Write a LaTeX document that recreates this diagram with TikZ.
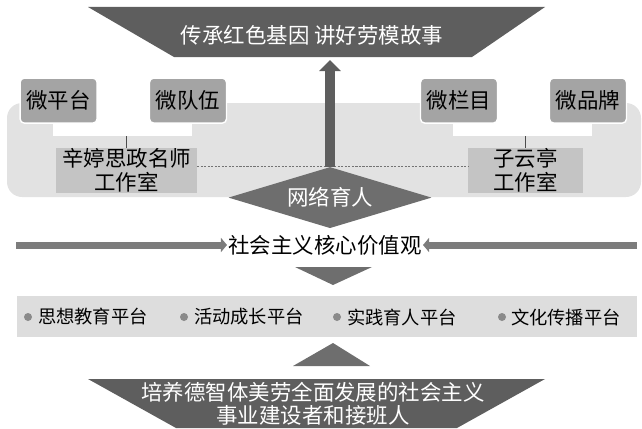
\documentclass[tikz,border=0pt]{standalone}
\usepackage{fontspec}
\usepackage{xcolor}
\usepackage{tikz}
\usetikzlibrary{shapes.geometric,arrows.meta}
\newfontfamily\cjk{Noto Sans CJK SC}
\definecolor{darkg}{HTML}{5E5E5E}
\definecolor{boxg}{HTML}{A4A4A4}
\definecolor{panelg}{HTML}{E2E2E2}
\definecolor{studiog}{HTML}{C4C4C4}
\definecolor{arrowg}{HTML}{7C7C7C}
\definecolor{bandg}{HTML}{DDDDDD}
\definecolor{dotg}{HTML}{8A8A8A}

\begin{document}
\begin{tikzpicture}[font=\cjk\fontsize{30.5}{34}\selectfont,
  microbox/.style={draw=white, line width=2pt, fill=boxg, rounded corners=6pt,
    minimum width=3.85cm, minimum height=2.25cm, inner sep=0pt},
  studiobox/.style={fill=studiog, minimum height=2.25cm, align=center, inner sep=0pt},
  strip/.style={fill=white, minimum width=6.95cm, minimum height=1.8cm, inner sep=0pt},
  sidearrow/.style={arrowg, line width=0.35cm, -{Triangle[width=0.7cm,length=0.3cm]}},
  plattext/.style={anchor=west, inner sep=0pt, font=\cjk\fontsize{26}{30}\selectfont}]
\useasboundingbox (0,0) rectangle (32.1,-21.45);

% top
\fill[darkg] (4.4,-0.35) -- (27.25,-0.35) -- (23.6,-2.85) -- (8.7,-2.85) -- cycle;
\node[text=white] (title) at (15.6,-1.75) {传承红色基因 讲好劳模故事};
\coordinate (topbase) at (16.5,-3.0);

% panel
\fill[panelg, rounded corners=0.75cm] (0.35,-5.15) rectangle (32.05,-9.85);
\node[strip] (lstrip) at (6.125,-5.9) {};
\node[strip] (rstrip) at (26.125,-5.9) {};

\node[microbox] (mpt) at (2.93,-5.03) {微平台};
\node[microbox] (mdw) at (9.4,-5.03) {微队伍};
\node[microbox] (mlm) at (22.95,-5.03) {微栏目};
\node[microbox] (mpp) at (29.4,-5.03) {微品牌};

\node[studiobox, minimum width=7.05cm] (xinting) at (6.33,-8.53) {辛婷思政名师\\工作室};
\node[studiobox, minimum width=5.75cm] (ziyun) at (26.28,-8.53) {子云亭\\工作室};

\draw[black!70, line width=0.6pt] (xinting.north) -- (xinting.north |- lstrip.south);
\draw[black!70, line width=0.6pt] (ziyun.north) -- (ziyun.north |- rstrip.south);
\draw[black!55, line width=0.7pt, densely dashed] ([yshift=0.2cm]xinting.east) -- ([yshift=0.2cm]ziyun.west);

\node[diamond, fill=darkg!90!white, text=white, minimum width=10.15cm, minimum height=3.05cm,
  aspect=3.3, inner sep=0pt] (net) at (16.5,-9.88) {网络育人};
\draw[darkg, line width=0.5cm, -{Triangle[width=1.05cm,length=0.55cm]}] (net.north) -- (topbase);

% values
\node[inner sep=2pt] (values) at (16.25,-12.25) {社会主义核心价值观};
\coordinate (lstart) at (0.8,-12.25);
\coordinate (rstart) at (31.85,-12.25);
\draw[sidearrow] (lstart) -- (values.west);
\draw[sidearrow] (rstart) -- (values.east);

\fill[darkg!90!white] (14.75,-13.35) -- (18.6,-13.35) -- (16.65,-14.25) -- cycle;

% platforms
\fill[bandg] (0.85,-14.8) rectangle (31.85,-16.85);
\fill[dotg] (1.4,-15.85) circle (0.2);
\fill[dotg] (9.2,-15.85) circle (0.2);
\fill[dotg] (16.85,-15.85) circle (0.2);
\fill[dotg] (25.1,-15.85) circle (0.2);
\node[plattext] (p1) at (1.9,-15.85) {思想教育平台};
\node[plattext] (p2) at (9.7,-15.85) {活动成长平台};
\node[plattext] (p3) at (17.35,-15.85) {实践育人平台};
\node[plattext] (p4) at (25.55,-15.85) {文化传播平台};

\fill[darkg!90!white] (16.65,-17.15) -- (18.5,-18.3) -- (14.65,-18.3) -- cycle;

% bottom
\fill[darkg] (4.4,-18.95) -- (27.25,-18.95) -- (22.85,-21.4) -- (8.8,-21.4) -- cycle;
\node[text=white, align=center, font=\cjk\fontsize{30.5}{32.5}\selectfont] (goal) at (15.65,-20.18)
  {培养德智体美劳全面发展的社会主义\\事业建设者和接班人};
\end{tikzpicture}
\end{document}
